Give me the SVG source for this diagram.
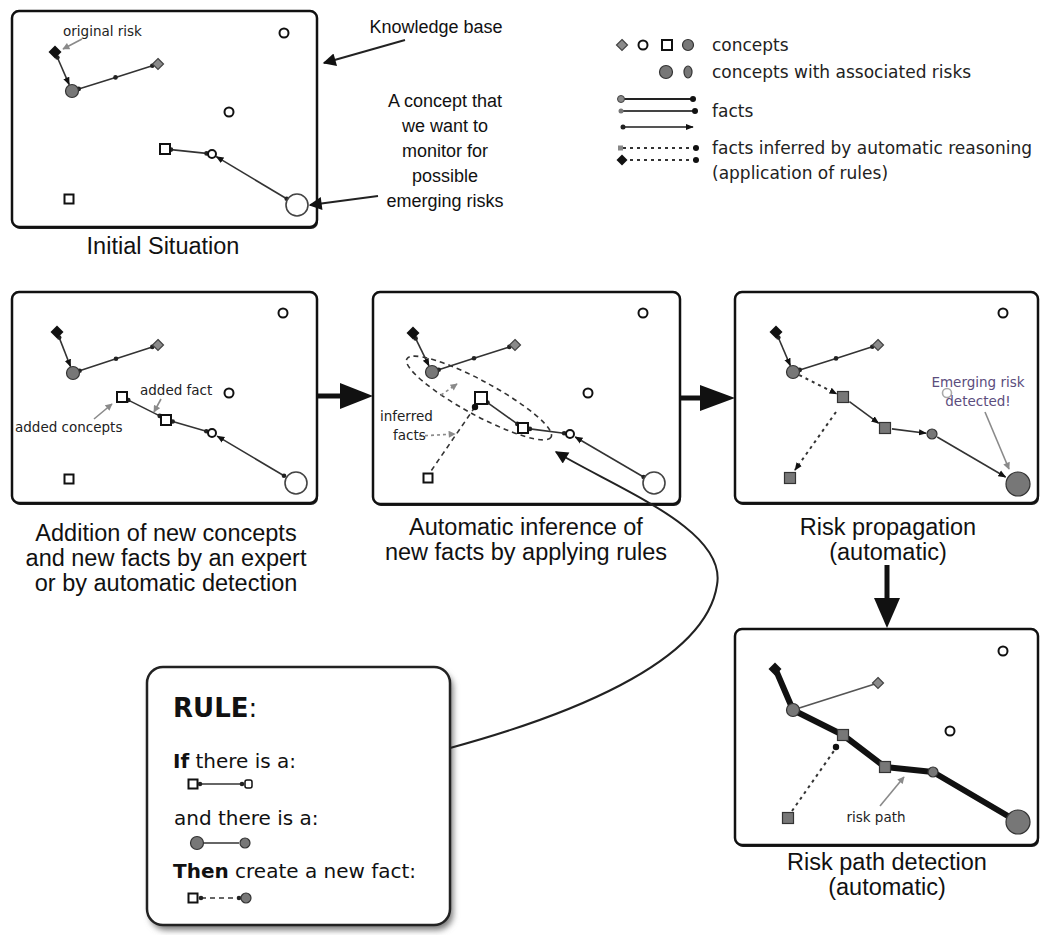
<svg xmlns="http://www.w3.org/2000/svg" width="1040" height="935" viewBox="0 0 1040 935">
<defs>
<style>
.panel{fill:#fff;stroke:#111;stroke-width:2.5}
.pshadow{fill:#222}
.cap{font-family:"Liberation Sans",Arial,sans-serif;font-size:23.5px;fill:#111;text-anchor:middle}
.ann{font-family:"Liberation Sans",Arial,sans-serif;font-size:18px;fill:#111;text-anchor:middle}
.lbl{font-family:"DejaVu Sans",sans-serif;font-size:13.5px;fill:#222}
.leg{font-family:"DejaVu Sans",sans-serif;font-size:17px;fill:#222}
.rule{font-family:"DejaVu Sans",sans-serif;font-size:20px;fill:#111}
.rulehead{font-family:"DejaVu Sans",sans-serif;font-size:26px;fill:#111}
.oc{fill:#fff;stroke:#111;stroke-width:2}
.sq{fill:#fff;stroke:#111;stroke-width:2}
.big{fill:#fff;stroke:#444;stroke-width:1.6}
.gc{fill:#777;stroke:#333;stroke-width:1.2}
.gd{fill:#8a8a8a;stroke:#444;stroke-width:1.2}
.bd{fill:#111}
.fact{stroke:#333;stroke-width:1.6;fill:none}
.inf{stroke:#333;stroke-width:1.6;fill:none;stroke-dasharray:5 4}
.dotl{stroke:#333;stroke-width:2;fill:none;stroke-dasharray:3 4}
.ptr{stroke:#8a8a8a;stroke-width:1.6;fill:none}
.arr{stroke:#222;stroke-width:2;fill:none}
</style>
<marker id="dot" viewBox="0 0 6 6" refX="3" refY="3" markerWidth="6" markerHeight="6" markerUnits="userSpaceOnUse"><circle cx="3" cy="3" r="2.3" fill="#222"/></marker>
<marker id="tri" viewBox="0 0 10 10" refX="9" refY="5" markerWidth="8" markerHeight="8" markerUnits="userSpaceOnUse" orient="auto-start-reverse"><path d="M0,1 L10,5 L0,9 Z" fill="#111"/></marker>
<marker id="head" viewBox="0 0 10 10" refX="9" refY="5" markerWidth="16" markerHeight="13" markerUnits="userSpaceOnUse" orient="auto"><path d="M0,0 L10,5 L0,10 Z" fill="#111"/></marker>
<marker id="ghead" viewBox="0 0 10 10" refX="9" refY="5" markerWidth="8" markerHeight="7" markerUnits="userSpaceOnUse" orient="auto"><path d="M0,0 L10,5 L0,10 Z" fill="#8a8a8a"/></marker>
<path id="dia" d="M0,-5.5 L5.5,0 L0,5.5 L-5.5,0 Z"/>
<path id="bdia" d="M0,-6.5 L6.5,0 L0,6.5 L-6.5,0 Z"/>
<filter id="blur" x="-10%" y="-10%" width="120%" height="120%"><feGaussianBlur stdDeviation="3"/></filter>
</defs>
<rect width="1040" height="935" fill="#fff"/>

<!-- Panel 1: Initial Situation -->
<g id="panel-initial">
<rect class="pshadow" x="13" y="13" width="305" height="216" rx="7"/>
<rect class="panel" x="12" y="11" width="305" height="216" rx="7"/>
<g id="p1-connectors">
<path class="fact" d="M57.4,57.5 L69.2,84.6" marker-start="url(#dot)" marker-end="url(#tri)"/>
<path class="fact" d="M78.7,88.9 L115.5,77.4 L152.3,65.8" marker-start="url(#dot)" marker-mid="url(#dot)" marker-end="url(#dot)"/>
<path class="fact" d="M171,149.6 L206.5,153.4" marker-start="url(#dot)" marker-end="url(#dot)"/>
<path class="fact" d="M216.3,156.6 L286.7,198.8" marker-start="url(#tri)" marker-end="url(#dot)"/>
<path class="ptr" d="M82,39 L63,49" marker-end="url(#ghead)"/>
</g>
<g id="p1-nodes">
<use href="#bdia" class="bd" x="55" y="52"/>
<circle class="gc" cx="72" cy="91" r="6.5"/>
<use href="#dia" class="gd" x="158" y="64"/>
<circle class="oc" cx="284" cy="33" r="4.5"/>
<circle class="oc" cx="229" cy="112" r="4.5"/>
<rect class="sq" x="160" y="144" width="10" height="10"/>
<circle class="oc" cx="212" cy="154" r="4"/>
<circle class="big" cx="297" cy="205" r="11"/>
<rect class="sq" x="64.5" y="194.5" width="9" height="9"/>
<text class="lbl" x="63" y="36">original risk</text>
</g>
<text class="cap" x="163" y="254">Initial Situation</text>
</g>

<!-- Annotations -->
<g id="annotations">
<text class="ann" x="436" y="33">Knowledge base</text>
<path class="arr" d="M405,40 L324,63" marker-end="url(#head)"/>
<text class="ann" x="445" y="107">A concept that</text>
<text class="ann" x="445" y="132">we want to</text>
<text class="ann" x="445" y="157">monitor for</text>
<text class="ann" x="445" y="182">possible</text>
<text class="ann" x="445" y="207">emerging risks</text>
<path class="arr" d="M378,196 L310,205" marker-end="url(#head)"/>
</g>

<!-- Legend -->
<g id="legend">
<use href="#dia" class="gd" x="622" y="45"/>
<circle class="oc" cx="643" cy="45" r="4.5"/>
<rect class="sq" x="662" y="40" width="10" height="10"/>
<circle class="gc" cx="688" cy="45" r="5.5"/>
<text class="leg" x="712" y="51">concepts</text>
<circle class="gc" cx="666" cy="72" r="6.5"/>
<ellipse class="gc" cx="688" cy="72" rx="4" ry="6"/>
<text class="leg" x="712" y="78">concepts with associated risks</text>
<line x1="622" y1="99" x2="693" y2="99" stroke="#222" stroke-width="2"/>
<circle cx="621" cy="99" r="3.5" fill="#888" stroke="#444"/>
<circle cx="693" cy="99" r="3" fill="#111"/>
<line x1="621" y1="111" x2="695" y2="111" stroke="#444" stroke-width="2"/>
<circle cx="621" cy="111" r="2.5" fill="#777"/>
<circle cx="695" cy="111" r="3" fill="#111"/>
<line x1="623" y1="127" x2="693" y2="127" stroke="#555" stroke-width="2" marker-end="url(#tri)"/>
<circle cx="623" cy="127" r="2.5" fill="#222"/>
<text class="leg" x="712" y="117">facts</text>
<line x1="623" y1="148" x2="695" y2="148" stroke="#333" stroke-width="1.8" stroke-dasharray="3 4"/>
<rect x="618" y="145.5" width="5" height="5" fill="#888"/>
<circle cx="696" cy="148" r="3" fill="#111"/>
<line x1="623" y1="160" x2="695" y2="160" stroke="#333" stroke-width="1.8" stroke-dasharray="3 4"/>
<use href="#dia" class="bd" x="622" y="160"/>
<circle cx="696" cy="160" r="3" fill="#111"/>
<text class="leg" x="712" y="154">facts inferred by automatic reasoning</text>
<text class="leg" x="712" y="179">(application of rules)</text>
</g>

<!-- Panel 2 -->
<g id="panel-addition">
<rect class="pshadow" x="13" y="294" width="305" height="211" rx="7"/>
<rect class="panel" x="12" y="292" width="305" height="211" rx="7"/>
<g id="p2-connectors">
<path class="fact" d="M59.2,337.6 L70.5,366.5" marker-start="url(#dot)" marker-end="url(#tri)"/>
<path class="fact" d="M79.6,370.8 L116,358.8 L152.3,346.9" marker-start="url(#dot)" marker-mid="url(#dot)" marker-end="url(#dot)"/>
<path class="fact" d="M128.3,400.1 L159.7,415.9" marker-start="url(#dot)" marker-end="url(#dot)"/>
<path class="fact" d="M172.7,421.5 L206.3,431.3" marker-start="url(#dot)" marker-end="url(#dot)"/>
<path class="fact" d="M217.2,436.1 L284,475.8" marker-start="url(#tri)" marker-end="url(#dot)"/>
<path class="ptr" d="M161,399 L154,412" marker-end="url(#ghead)"/>
<path class="ptr" d="M94,419 L112,404" marker-end="url(#ghead)"/>
</g>
<g id="p2-nodes">
<use href="#bdia" class="bd" x="57" y="332"/>
<circle class="gc" cx="73" cy="373" r="6.5"/>
<use href="#dia" class="gd" x="158" y="345"/>
<circle class="oc" cx="283" cy="313" r="4.5"/>
<circle class="oc" cx="229" cy="393" r="4.5"/>
<rect class="sq" x="117" y="392" width="10" height="10"/>
<rect class="sq" x="161" y="415" width="10" height="10"/>
<circle class="oc" cx="212" cy="433" r="4"/>
<circle class="big" cx="296" cy="483" r="11"/>
<rect class="sq" x="64.5" y="474.5" width="9" height="9"/>
<text class="lbl" x="140" y="395">added fact</text>
<text class="lbl" x="15" y="432">added concepts</text>
</g>
<text class="cap" x="166" y="541">Addition of new concepts</text>
<text class="cap" x="166" y="566">and new facts by an expert</text>
<text class="cap" x="166" y="591">or by automatic detection</text>
</g>

<!-- Panel 3 -->
<g id="panel-inference">
<rect class="pshadow" x="374" y="294" width="307" height="212" rx="7"/>
<rect class="panel" x="373" y="292" width="307" height="212" rx="7"/>
<g id="p3-connectors">
<path class="fact" d="M415.6,338.4 L428.9,365.7" marker-start="url(#dot)" marker-end="url(#tri)"/>
<path class="fact" d="M438.7,369.8 L474,358.3 L509.3,346.9" marker-start="url(#dot)" marker-mid="url(#dot)" marker-end="url(#dot)"/>
<path class="fact" d="M487.5,402.6 L517.3,423.9" marker-start="url(#dot)" marker-end="url(#dot)"/>
<path class="fact" d="M529.9,428.9 L564.1,433.2" marker-start="url(#dot)" marker-end="url(#dot)"/>
<path class="fact" d="M575.2,437 L643.6,477" marker-start="url(#tri)" marker-end="url(#dot)"/>
<ellipse class="inf" cx="479" cy="398" rx="82" ry="17" transform="rotate(28.5 479 398)"/>
<path class="inf" d="M475,407 L431,471"/>
<circle cx="475" cy="407" r="3.2" fill="#111"/>
<path class="ptr" d="M441,395 L457,384" stroke-dasharray="3 3" marker-end="url(#ghead)"/>
<path class="ptr" d="M419,436 L455,434" stroke-dasharray="3 3" marker-end="url(#ghead)"/>
</g>
<g id="p3-nodes">
<use href="#bdia" class="bd" x="413" y="333"/>
<circle class="gc" cx="432" cy="372" r="6.5"/>
<use href="#dia" class="gd" x="515" y="345"/>
<circle class="oc" cx="643" cy="313" r="4.5"/>
<circle class="oc" cx="588" cy="393" r="4.5"/>
<rect class="sq" x="475" y="392" width="12" height="12"/>
<rect class="sq" x="518" y="423" width="10" height="10"/>
<circle class="oc" cx="570" cy="434" r="4"/>
<circle class="big" cx="654" cy="483" r="11"/>
<rect class="sq" x="423.5" y="473.5" width="9" height="9"/>
<text class="lbl" x="380" y="421">inferred</text>
<text class="lbl" x="393" y="440">facts</text>
</g>
<text class="cap" x="526" y="535">Automatic inference of</text>
<text class="cap" x="526" y="560">new facts by applying rules</text>
</g>

<!-- Panel 4 -->
<g id="panel-propagation">
<rect class="pshadow" x="736" y="294" width="303" height="211" rx="7"/>
<rect class="panel" x="735" y="292" width="303" height="211" rx="7"/>
<g id="p4-connectors">
<path class="fact" d="M778.3,337.5 L790.3,365.6" marker-start="url(#dot)" marker-end="url(#tri)"/>
<path class="fact" d="M799.7,369.9 L836,358.4 L872.3,346.8" marker-start="url(#dot)" marker-mid="url(#dot)" marker-end="url(#dot)"/>
<path class="dotl" d="M799.3,375.1 L836.7,393.9" marker-end="url(#tri)"/>
<path class="fact" d="M849.4,401.7 L878.6,423.2" marker-end="url(#tri)"/>
<path class="fact" d="M891.9,428.9 L926.1,433.2" marker-end="url(#tri)"/>
<path class="fact" d="M937.2,437 L1005.6,477" marker-end="url(#tri)"/>
<path class="dotl" d="M836,412 L795,470" marker-end="url(#tri)"/>
<path class="ptr" d="M985,412 L1009,469" marker-end="url(#ghead)"/>
</g>
<g id="p4-nodes">
<use href="#bdia" class="bd" x="776" y="332"/>
<circle class="gc" cx="793" cy="372" r="6.5"/>
<use href="#dia" class="gd" x="878" y="345"/>
<circle class="oc" cx="1003" cy="313" r="4.5"/>
<circle cx="947" cy="393" r="4.5" fill="#fff" stroke="#aaa" stroke-width="1.6"/>
<rect class="gc" x="837.5" y="391.5" width="11" height="11"/>
<rect class="gc" x="879.5" y="422.5" width="11" height="11"/>
<circle class="gc" cx="932" cy="434" r="5"/>
<circle class="gc" cx="1018" cy="484" r="12"/>
<rect class="gc" x="784.5" y="472.5" width="11" height="11"/>
<text class="lbl" x="978" y="387" text-anchor="middle" style="fill:#5b4d7d">Emerging risk</text>
<text class="lbl" x="978" y="406" text-anchor="middle" style="fill:#5b4d7d">detected!</text>
</g>
<text class="cap" x="888" y="535">Risk propagation</text>
<text class="cap" x="888" y="560">(automatic)</text>
</g>

<!-- Panel 5 -->
<g id="panel-riskpath">
<rect class="pshadow" x="736" y="631" width="303" height="216" rx="7"/>
<rect class="panel" x="735" y="629" width="303" height="216" rx="7"/>
<g id="p5-connectors">
<path d="M793,710 L878,683" stroke="#555" stroke-width="1.8" fill="none"/>
<path d="M775,668 L793,710 L843,735 L885,767 L933,772 L1018,822" stroke="#111" stroke-width="6" fill="none" stroke-linejoin="round" stroke-linecap="round"/>
<path class="dotl" d="M792,811 L836,748"/>
<circle cx="836" cy="747" r="3.2" fill="#111"/>
<path class="ptr" d="M880,806 L904,777" marker-end="url(#ghead)"/>
</g>
<g id="p5-nodes">
<use href="#bdia" class="bd" x="775" y="669"/>
<circle class="gc" cx="793" cy="710" r="6.5"/>
<use href="#dia" class="gd" x="878" y="683"/>
<circle class="oc" cx="1003" cy="651" r="4.5"/>
<circle class="oc" cx="950" cy="731" r="4.5"/>
<rect class="gc" x="837.5" y="729.5" width="11" height="11"/>
<rect class="gc" x="879.5" y="761.5" width="11" height="11"/>
<circle class="gc" cx="933" cy="772" r="5"/>
<circle class="gc" cx="1018" cy="822" r="12"/>
<rect class="gc" x="782.5" y="812.5" width="11" height="11"/>
<text class="lbl" x="876" y="822" text-anchor="middle">risk path</text>
</g>
<text class="cap" x="887" y="870">Risk path detection</text>
<text class="cap" x="887" y="895">(automatic)</text>
</g>

<!-- Big flow arrows -->
<g id="flow-arrows">
<line x1="317" y1="396" x2="345" y2="396" stroke="#111" stroke-width="5"/>
<polygon points="340,383 373,396 340,409" fill="#111"/>
<line x1="680" y1="398" x2="705" y2="398" stroke="#111" stroke-width="5"/>
<polygon points="700,385 735,398 700,411" fill="#111"/>
<line x1="887" y1="565" x2="887" y2="603" stroke="#111" stroke-width="5"/>
<polygon points="874,598 887,628 900,598" fill="#111"/>
</g>

<!-- Rule box -->
<g id="rule-box">
<rect x="150" y="672" width="303" height="258" rx="16" fill="#777" filter="url(#blur)"/>
<rect x="147" y="667" width="303" height="258" rx="16" fill="#fff" stroke="#222" stroke-width="2.5"/>
<text class="rulehead" x="173" y="717"><tspan font-weight="bold">RULE</tspan>:</text>
<text class="rule" x="173" y="768"><tspan font-weight="bold">If</tspan> there is a:</text>
<rect class="sq" x="188.5" y="779.5" width="9" height="9" stroke-width="1.6"/>
<path class="fact" d="M200,784 L242,784" marker-start="url(#dot)" marker-end="url(#dot)"/>
<rect x="245" y="780" width="7" height="8" rx="2" fill="#fff" stroke="#111" stroke-width="1.5"/>
<text class="rule" x="174" y="825">and there is a:</text>
<circle class="gc" cx="197" cy="843" r="6.5"/>
<path class="fact" d="M204,843 L239,843" stroke="#222" stroke-width="2"/>
<circle class="gc" cx="245" cy="843" r="5"/>
<text class="rule" x="173" y="878"><tspan font-weight="bold">Then</tspan> create a new fact:</text>
<rect class="sq" x="188.5" y="893.5" width="9" height="9" stroke-width="1.6"/>
<path class="inf" d="M201,898 L239,898" marker-start="url(#dot)" marker-end="url(#dot)"/>
<circle class="gc" cx="246" cy="898" r="5"/>
</g>

<!-- Rule connector -->
<g id="rule-connector">
<path d="M450,748 C560,718 705,665 717,585 C727,530 620,490 556,452" stroke="#222" stroke-width="2" fill="none" marker-end="url(#head)"/>
</g>
</svg>
